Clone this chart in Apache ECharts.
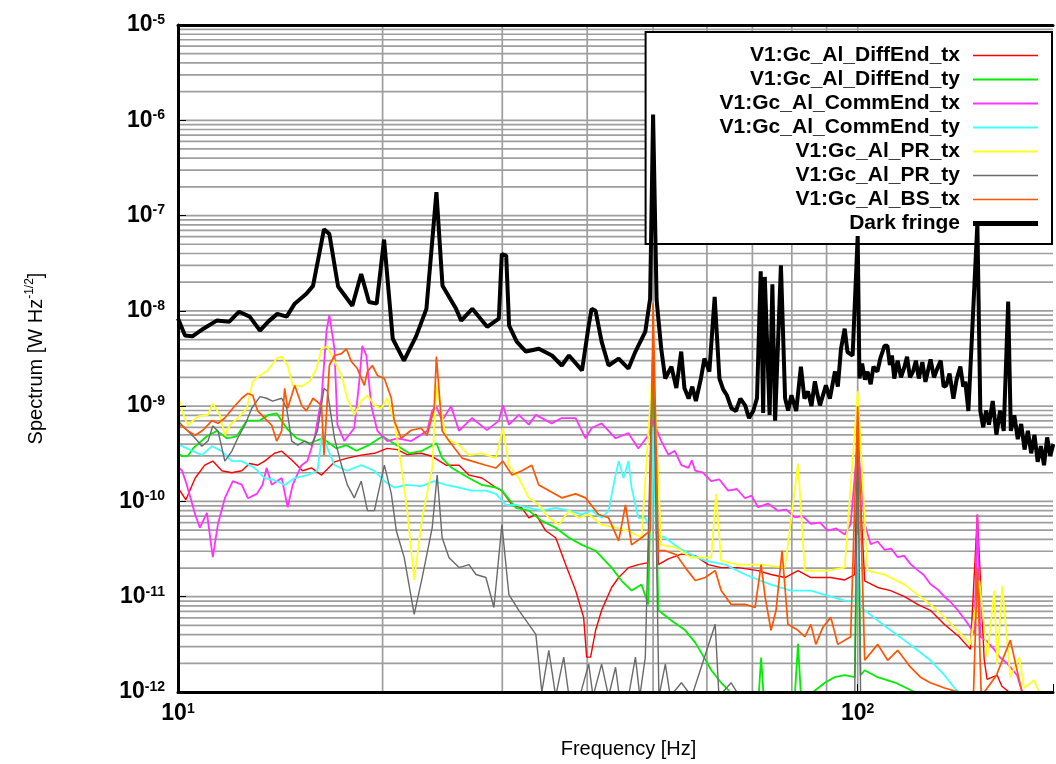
<!DOCTYPE html>
<html>
<head>
<meta charset="utf-8">
<title>Spectrum</title>
<script src="https://cdn.jsdelivr.net/npm/echarts@6/dist/echarts.min.js"></script>
<style>
  html, body { margin: 0; padding: 0; background: #fff; }
  #chart { width: 1056px; height: 764px; }
</style>
</head>
<body>
<div id="chart"></div>
<script>
// channel names in legend order
const channelNames = [
  'V1:Gc_Al_DiffEnd_tx', 'V1:Gc_Al_DiffEnd_ty', 'V1:Gc_Al_CommEnd_tx', 'V1:Gc_Al_CommEnd_ty',
  'V1:Gc_Al_PR_tx', 'V1:Gc_Al_PR_ty', 'V1:Gc_Al_BS_tx', 'Dark fringe'
]

// axis range and grid values
const freqRange = [10, 193.8]
const ampRange = [1e-12, 1e-5]
const freqGrid = [20, 30, 40, 50, 60, 70, 80, 90, 100]
const mantissas = [1, 2, 3, 4, 5, 6, 7, 8, 9]
const decades = [-12, -11, -10, -9, -8, -7, -6]

// [frequency Hz, amplitude W/sqrt(Hz)]
const diffEndTx = [[10.0,1.4e-10],[10.27,1.04e-10],[10.6,1.76e-10],[10.95,2.4e-10],[11.25,2.65e-10],[11.6,2.1e-10],[12.0,2.0e-10],[12.41,2.1e-10],[12.75,2.5e-10],[13.1,2.4e-10],[13.41,2.65e-10],[13.87,3.2e-10],[14.21,3.37e-10],[14.7,2.72e-10],[15.25,2.1e-10],[15.72,2.25e-10],[16.26,1.89e-10],[16.99,2.6e-10],[17.75,2.85e-10],[18.6,3.06e-10],[19.45,3.2e-10],[20.32,3.6e-10],[21.02,3.5e-10],[21.74,3.1e-10],[22.79,3.2e-10],[23.57,3.0e-10],[24.8,2.4e-10],[25.91,2.4e-10],[26.8,1.89e-10],[28.0,1.76e-10],[29.36,1.4e-10],[29.96,1.3e-10],[31.0,9.2e-11],[32.06,8.55e-11],[32.82,6.73e-11],[33.61,7.3e-11],[34.76,4.92e-11],[35.95,4.16e-11],[37.19,2.17e-11],[38.46,1.16e-11],[39.52,6.07e-12],[39.92,2.32e-12],[40.46,2.32e-12],[41.15,4.44e-12],[42.0,7.2e-12],[43.44,1.25e-11],[44.5,1.59e-11],[46.0,2.02e-11],[47.57,2.17e-11],[49.2,2.28e-11],[50.0,5e-9],[50.9,2.17e-11],[52.65,2.5e-11],[55.03,2.8e-11],[57.68,2.7e-11],[60.26,2.17e-11],[62.97,2.02e-11],[66.68,2.02e-11],[71.35,1.88e-11],[74.55,1.71e-11],[78.17,1.59e-11],[81.7,1.88e-11],[85.33,1.59e-11],[91.3,1.59e-11],[95.7,1.5e-11],[99.0,1.71e-11],[100.0,4e-10],[102.4,1.47e-11],[107.0,1.25e-11],[111.8,1.16e-11],[117.2,1.0e-11],[122.5,8.3e-12],[127.9,7.2e-12],[134.2,5.1e-12],[141.0,3.8e-12],[146.5,2.8e-12],[150.0,7.3e-11],[153.5,2.2e-12],[155.0,1.36e-12],[160.4,1.5e-12],[163.0,1.15e-12],[170.0,9e-13]]

const diffEndTy = [[10.0,3.2e-10],[10.14,2.99e-10],[10.34,3.0e-10],[10.52,3.6e-10],[11.03,4.83e-10],[11.41,5.5e-10],[11.8,4.6e-10],[12.2,4.83e-10],[12.63,7.05e-10],[13.2,7.1e-10],[13.6,8.1e-10],[13.97,8.4e-10],[14.45,5.86e-10],[14.95,4.6e-10],[15.62,4.08e-10],[16.32,4.6e-10],[17.11,3.6e-10],[17.69,3.9e-10],[18.3,3.4e-10],[19.1,3.9e-10],[20.0,4.83e-10],[20.95,3.9e-10],[21.88,3.2e-10],[22.87,3.4e-10],[24.0,4.08e-10],[24.47,2.85e-10],[25.3,2.24e-10],[26.8,1.76e-10],[28.0,1.49e-10],[29.36,1.4e-10],[29.96,1.3e-10],[31.42,8.55e-11],[32.82,8.0e-11],[34.3,6.25e-11],[35.95,5.3e-11],[37.6,4.16e-11],[39.3,3.5e-11],[41.15,3.04e-11],[43.44,2.02e-11],[44.94,1.47e-11],[46.5,1.16e-11],[48.08,1.34e-11],[49.2,8.3e-12],[50.0,3e-9],[50.9,7.2e-12],[53.2,5.64e-12],[55.76,4.44e-12],[57.68,3.3e-12],[59.66,2.2e-12],[60.9,1.69e-12],[62.97,1.25e-12],[64.5,1.05e-12],[66.0,8e-13],[71.5,9e-13],[72.1,2.3e-12],[72.8,8e-13],[80.8,9e-13],[81.7,3.2e-12],[82.6,8e-13],[86.0,1.0e-12],[89.45,1.25e-12],[92.5,1.43e-12],[95.7,1.5e-12],[99.0,1.43e-12],[100.0,2e-10],[101.0,1.5e-12],[102.4,1.69e-12],[107.0,1.43e-12],[113.7,1.25e-12],[119.6,1.05e-12],[125.0,9e-13]]

const commEndTx = [[10.0,2.3e-10],[10.14,2.1e-10],[10.3,1.5e-10],[10.6,7.3e-11],[10.77,5.3e-11],[11.03,7.6e-11],[11.25,2.6e-11],[11.45,5.8e-11],[11.72,1.08e-10],[12.04,1.63e-10],[12.41,1.5e-10],[12.67,1.08e-10],[13.06,1.2e-10],[13.32,1.5e-10],[13.5,2.25e-10],[13.74,1.5e-10],[13.97,1.63e-10],[14.21,1.76e-10],[14.5,8.7e-11],[14.75,1.5e-10],[15.2,2.4e-10],[15.5,2.65e-10],[15.88,4.6e-10],[16.26,1.21e-9],[16.54,6.2e-9],[16.7,9.0e-9],[16.99,4.0e-9],[17.16,6.4e-10],[17.57,4.3e-10],[18.17,5.9e-10],[18.48,1.82e-9],[18.67,4.3e-9],[18.93,3.4e-9],[19.25,1.0e-9],[19.65,5.5e-10],[20.32,4.3e-10],[21.02,4.6e-10],[22.03,4.3e-10],[23.26,5.5e-10],[23.66,9.0e-10],[23.98,1.0e-9],[24.47,7.05e-10],[25.22,1.0e-9],[25.91,5.5e-10],[27.07,7.5e-10],[28.48,5.6e-10],[29.66,7.05e-10],[30.06,1.02e-9],[30.68,6.4e-10],[31.73,8.1e-10],[32.82,6.4e-10],[33.61,8.1e-10],[35.47,6.6e-10],[36.69,7.5e-10],[38.46,7.5e-10],[39.78,4.6e-10],[40.6,5.9e-10],[42.0,6.6e-10],[44.03,4.6e-10],[46.0,5.2e-10],[47.57,3.6e-10],[49.2,4.95e-10],[50.0,7.05e-10],[51.4,4.3e-10],[52.65,3.1e-10],[53.8,3.4e-10],[55.03,2.4e-10],[56.34,2.25e-10],[57.0,2.7e-10],[57.68,2.1e-10],[59.2,2.0e-10],[60.88,1.63e-10],[62.6,1.7e-10],[64.48,1.3e-10],[66.4,1.35e-10],[68.29,1.08e-10],[69.8,1.15e-10],[71.35,8.7e-11],[73.8,9.5e-11],[76.34,8.0e-11],[78.5,8.2e-11],[80.84,6.8e-11],[83.0,7.0e-11],[85.33,5.8e-11],[88.0,6.0e-11],[90.36,4.95e-11],[93.0,5.2e-11],[95.7,4.5e-11],[97.65,5.8e-11],[100.0,4.2e-10],[102.4,5.8e-11],[104.5,3.55e-11],[107.0,3.8e-11],[109.6,3.1e-11],[112.0,3.2e-11],[114.5,2.6e-11],[117.0,2.7e-11],[119.6,2.2e-11],[122.5,1.9e-11],[125.0,1.7e-11],[127.9,1.36e-11],[131.0,1.2e-11],[134.2,1.0e-11],[137.0,8.8e-12],[140.2,7.3e-12],[145.0,5.3e-12],[148.5,4.1e-12],[150.0,7.3e-11],[151.5,3.8e-12],[155.0,3.4e-12],[158.8,2.8e-12],[162.0,2.3e-12],[165.9,2.0e-12],[171.6,1.5e-12],[174.6,1.0e-12],[178.0,8e-13]]

const commEndTy = [[10.0,3.9e-10],[10.14,3.8e-10],[10.48,3.4e-10],[10.84,3.06e-10],[11.22,3.8e-10],[11.6,3.37e-10],[12.0,2.65e-10],[12.41,2.65e-10],[12.97,2.24e-10],[13.41,1.76e-10],[13.87,1.67e-10],[14.35,1.49e-10],[14.85,1.76e-10],[15.5,1.89e-10],[16.04,2.1e-10],[16.32,5.5e-10],[16.59,3.6e-10],[16.99,2.4e-10],[17.75,2.1e-10],[18.6,2.4e-10],[19.45,2.1e-10],[20.12,1.63e-10],[20.8,1.4e-10],[21.74,1.49e-10],[22.79,1.45e-10],[23.82,1.63e-10],[24.8,1.49e-10],[25.91,1.4e-10],[27.07,1.3e-10],[28.38,1.3e-10],[29.36,1.2e-10],[30.37,9.2e-11],[31.42,9.2e-11],[32.82,8.55e-11],[34.3,8.0e-11],[35.95,8.55e-11],[37.6,8.0e-11],[39.3,7.3e-11],[40.6,8.0e-11],[42.0,6.73e-11],[43.0,8.0e-11],[44.03,1.89e-10],[44.5,2.65e-10],[45.23,1.76e-10],[46.0,2.65e-10],[46.48,1.4e-10],[47.57,6.73e-11],[48.7,6.73e-11],[49.7,4.92e-11],[50.0,6e-10],[50.5,4.5e-11],[52.12,4.16e-11],[54.5,3.27e-11],[56.9,2.76e-11],[59.66,2.39e-11],[63.83,2.17e-11],[68.29,1.71e-11],[74.55,1.34e-11],[79.75,1.16e-11],[85.33,1.16e-11],[91.3,1.0e-11],[95.7,9.1e-12],[99.2,9e-12],[100.0,4.5e-11],[100.8,8e-12],[102.4,7.2e-12],[107.0,5.64e-12],[111.8,4.44e-12],[117.2,3.48e-12],[122.5,2.74e-12],[127.9,2.15e-12],[134.2,1.5e-12],[138.8,1.1e-12],[143.0,9e-13]]

const prTx = [[10.0,1.3e-9],[10.14,8.9e-10],[10.34,6.3e-10],[10.7,7.8e-10],[11.07,8.1e-10],[11.25,1.07e-9],[11.52,8.1e-10],[11.72,4.95e-10],[11.92,6.3e-10],[12.24,7.5e-10],[12.63,9.5e-10],[12.88,1.82e-9],[13.2,2.1e-9],[13.55,2.37e-9],[13.97,3.16e-9],[14.21,3.31e-9],[14.5,2.67e-9],[14.75,1.65e-9],[15.2,1.61e-9],[15.62,1.82e-9],[15.99,2.48e-9],[16.26,4.0e-9],[16.59,4.22e-9],[16.99,2.94e-9],[17.4,2.1e-9],[17.75,1.21e-9],[18.17,8.1e-10],[18.6,1.13e-9],[19.0,1.3e-9],[19.45,1.02e-9],[19.92,9.5e-10],[20.32,1.21e-9],[20.8,7.05e-10],[21.3,2.4e-10],[21.74,8.0e-11],[22.26,1.5e-11],[22.87,6.73e-11],[23.66,2.24e-10],[24.0,1.65e-9],[24.8,4.6e-10],[25.91,3.9e-10],[26.8,3.06e-10],[28.0,3.2e-10],[29.36,2.85e-10],[30.06,5.86e-10],[30.68,2.4e-10],[31.73,1.76e-10],[32.82,1.09e-10],[33.95,9.2e-11],[35.12,6.73e-11],[36.33,5.7e-11],[37.6,8.0e-11],[38.86,6.73e-11],[40.2,7.3e-11],[42.0,5.7e-11],[44.03,5.3e-11],[46.0,4.92e-11],[48.08,4.16e-11],[50.0,3e-9],[51.4,3.5e-11],[54.1,3.27e-11],[56.9,2.57e-11],[60.88,2.57e-11],[61.9,1.2e-10],[62.97,2.39e-11],[66.68,2.17e-11],[72.1,2.17e-11],[78.17,2.02e-11],[81.7,2.5e-10],[83.6,1.88e-11],[90.36,1.88e-11],[95.7,2.02e-11],[100.0,1.43e-9],[103.4,1.88e-11],[109.6,1.71e-11],[117.2,1.34e-11],[122.5,1.05e-11],[127.9,8.3e-12],[134.2,6.07e-12],[140.2,4.44e-12],[146.5,3.16e-12],[151.0,1.48e-11],[155.1,2.32e-12],[158.8,1.16e-11],[160.4,1.96e-12],[163.2,1.3e-11],[167.7,1.43e-12],[172.8,2.32e-12],[175.8,1.1e-12],[181.8,1.33e-12],[186.0,9e-13]]

const prTy = [[10.0,7.05e-10],[10.14,6.3e-10],[10.34,5.5e-10],[10.6,4.6e-10],[10.84,3.8e-10],[11.07,4.3e-10],[11.25,6.2e-10],[11.45,5.5e-10],[11.72,2.65e-10],[12.0,3.37e-10],[12.24,4.6e-10],[12.54,6.3e-10],[12.84,9.5e-10],[13.2,1.26e-9],[13.5,1.21e-9],[13.78,1.13e-9],[14.21,1.21e-9],[14.45,9.5e-10],[14.7,4.3e-10],[15.0,3.9e-10],[15.36,4.3e-10],[15.72,3.9e-10],[16.04,5.5e-10],[16.4,1.54e-9],[16.59,1.43e-9],[16.99,4.6e-10],[17.4,2.4e-10],[17.75,1.49e-10],[18.17,1.09e-10],[18.6,1.63e-10],[19.0,8.0e-11],[19.45,8.0e-11],[20.12,2.4e-10],[20.6,1.2e-10],[20.95,4.92e-11],[21.52,2.57e-11],[22.26,6.52e-12],[22.87,1.59e-11],[23.66,5.3e-11],[24.06,1.89e-10],[24.47,4.16e-11],[25.05,2.57e-11],[25.91,2.02e-11],[26.8,2.17e-11],[27.44,1.71e-11],[28.38,1.59e-11],[29.16,7.7e-12],[29.96,5.7e-11],[30.68,1.05e-11],[31.73,7.2e-12],[32.82,5.13e-12],[33.61,4.03e-12],[34.3,1.0e-12],[35.12,2.74e-12],[35.95,9e-13],[36.94,2.32e-12],[37.6,9e-13],[39.0,9e-13],[40.2,1.96e-12],[40.8,9e-13],[42.0,1.96e-12],[43.0,9e-13],[44.03,1.82e-12],[44.6,9e-13],[46.0,9e-13],[47.1,2.32e-12],[47.8,9e-13],[48.7,2.32e-12],[50.0,5e-9],[51.0,9e-13],[52.12,1.96e-12],[53.0,9e-13],[55.03,1.25e-12],[57.0,9e-13],[61.71,5.13e-12],[62.5,9e-13],[65.14,1.25e-12],[67.0,9e-13],[99.0,9e-13],[100.0,6e-10],[101.0,9e-13],[150.0,9e-13]]

const bsTx = [[10.0,6.3e-10],[10.14,6.2e-10],[10.34,5.5e-10],[10.6,4.95e-10],[10.88,5.58e-10],[11.22,7.05e-10],[11.45,6.6e-10],[11.72,7.5e-10],[12.04,9.5e-10],[12.41,1.21e-9],[12.67,1.36e-9],[12.88,1.3e-9],[13.1,8.9e-10],[13.41,7.5e-10],[13.74,6.3e-10],[13.97,4.3e-10],[14.21,5.5e-10],[14.35,1.54e-9],[14.5,9.5e-10],[14.85,1.65e-9],[15.2,1.02e-9],[15.45,8.9e-10],[15.8,1.21e-9],[16.26,1.02e-9],[16.4,3.06e-10],[16.7,2.67e-9],[16.99,3.4e-9],[17.4,3.56e-9],[17.69,4.0e-9],[17.99,2.94e-9],[18.36,2.48e-9],[18.8,1.65e-9],[19.0,2.31e-9],[19.32,2.67e-9],[19.65,2.1e-9],[20.12,1.95e-9],[20.6,1.21e-9],[20.8,7.05e-10],[21.3,4.6e-10],[22.03,5.58e-10],[22.79,5.86e-10],[23.26,4.95e-10],[23.82,9.5e-10],[24.0,3.31e-9],[24.47,5.5e-10],[25.05,4.3e-10],[26.18,2.85e-10],[27.07,2.65e-10],[28.38,2.4e-10],[29.36,2.24e-10],[30.06,2.65e-10],[31.0,1.89e-10],[32.06,2.1e-10],[33.15,2.4e-10],[33.95,1.49e-10],[35.12,1.3e-10],[36.69,1.09e-10],[38.46,1.2e-10],[39.78,1.09e-10],[41.57,7.3e-11],[43.0,6.73e-11],[44.5,3.86e-11],[45.54,9.2e-11],[46.48,3.5e-11],[48.08,4.16e-11],[49.5,4.92e-11],[50.0,1.2e-8],[50.9,3.04e-11],[52.12,3.04e-11],[54.1,2.76e-11],[55.76,2.02e-11],[57.68,1.48e-11],[59.66,1.59e-11],[61.71,1.88e-11],[62.97,1.16e-11],[65.14,8.3e-12],[68.29,8.3e-12],[70.63,7.7e-12],[72.1,2.17e-11],[73.07,1.0e-11],[74.55,4.44e-12],[75.84,7.2e-12],[77.4,3.04e-11],[78.95,5.13e-12],[81.7,4.44e-12],[83.6,3.8e-12],[85.33,5.13e-12],[86.78,3.16e-12],[88.86,4.77e-12],[91.3,6.07e-12],[93.47,3.16e-12],[97.65,3.8e-12],[100.0,1.0e-9],[102.4,2.15e-12],[107.0,3.16e-12],[110.7,2.15e-12],[114.5,2.74e-12],[119.6,1.82e-12],[123.7,1.43e-12],[127.9,1.25e-12],[134.2,1.1e-12],[148.0,9e-13],[150.0,2e-11],[152.0,9e-13],[160.0,1.5e-12],[167.7,3.5e-12],[175.0,9e-13]]

const darkFringe = [[10.0,8.3e-9],[10.24,5.5e-9],[10.5,5.4e-9],[10.9,6.5e-9],[11.4,7.9e-9],[11.9,7.7e-9],[12.3,9.8e-9],[12.75,8.7e-9],[13.2,6.2e-9],[13.6,7.8e-9],[14.0,9.3e-9],[14.45,8.7e-9],[14.85,1.19e-8],[15.45,1.51e-8],[15.8,1.83e-8],[16.4,7.2e-8],[16.7,6.4e-8],[17.2,1.8e-8],[18.05,1.13e-8],[18.6,2.44e-8],[19.1,1.24e-8],[19.6,1.19e-8],[20.1,5.6e-8],[20.7,5.1e-9],[21.5,3.0e-9],[22.4,5.4e-9],[23.2,1.05e-8],[24.0,1.76e-7],[24.5,1.83e-8],[25.65,1.05e-8],[26.1,7.9e-9],[27.1,1.05e-8],[28.5,6.8e-9],[29.65,8.3e-9],[29.95,3.95e-8],[30.4,3.8e-8],[30.7,7.0e-9],[31.5,4.75e-9],[32.5,3.74e-9],[33.95,4.0e-9],[35.5,3.4e-9],[36.7,2.67e-9],[37.6,3.4e-9],[39.3,2.37e-9],[40.2,7.0e-9],[40.6,1.05e-8],[41.15,1.0e-8],[42.0,4.75e-9],[43.0,2.67e-9],[44.5,3.16e-9],[46.0,2.48e-9],[47.1,3.74e-9],[48.7,6.05e-9],[49.5,1.34e-8],[50.0,1.15e-6],[50.6,1.3e-8],[51.4,4.0e-9],[52.1,1.95e-9],[53.2,2.6e-9],[54.1,1.55e-9],[55.0,3.74e-9],[55.6,1.55e-9],[56.4,1.2e-9],[57.1,1.6e-9],[57.8,1.13e-9],[58.8,1.95e-9],[59.5,3.16e-9],[60.5,2.31e-9],[61.6,1.4e-8],[62.6,1.95e-9],[63.4,1.5e-9],[64.2,1.3e-9],[65.2,9.5e-10],[66.2,8.9e-10],[67.2,1.2e-9],[68.3,1.02e-9],[69.2,7.5e-10],[70.2,8.9e-10],[71.1,1.21e-9],[72.0,2.6e-8],[72.6,8.5e-10],[73.0,2.27e-8],[74.2,8.1e-10],[74.9,1.9e-8],[75.6,7.05e-10],[77.1,3.0e-8],[78.2,1.21e-9],[79.0,9.0e-10],[79.9,1.3e-9],[81.2,8.9e-10],[82.5,2.6e-9],[83.5,1.2e-9],[84.5,1.43e-9],[85.5,1.0e-9],[86.5,1.82e-9],[87.3,1.3e-9],[88.0,1.02e-9],[89.8,1.65e-9],[91.0,1.2e-9],[92.6,2.31e-9],[93.5,1.6e-9],[94.5,4.0e-9],[95.7,6.5e-9],[96.6,3.7e-9],[98.3,3.4e-9],[100.0,6.1e-8],[100.6,1.95e-9],[101.5,2.8e-9],[102.5,1.9e-9],[103.4,2.3e-9],[104.5,1.7e-9],[105.5,2.6e-9],[106.9,2.3e-9],[108.0,3.2e-9],[109.5,4.3e-9],[110.6,4.3e-9],[111.5,2.7e-9],[112.3,3.4e-9],[113.2,1.95e-9],[114.5,3.0e-9],[115.8,2.0e-9],[117.0,2.5e-9],[118.2,3.3e-9],[119.4,2.0e-9],[120.6,2.3e-9],[121.8,3.0e-9],[123.0,1.95e-9],[124.5,2.9e-9],[125.8,1.8e-9],[126.8,2.3e-9],[128.0,3.1e-9],[129.5,2.0e-9],[131.0,2.5e-9],[132.5,3.0e-9],[133.8,1.6e-9],[135.0,1.65e-9],[136.5,2.2e-9],[138.3,1.2e-9],[139.8,1.9e-9],[141.6,2.6e-9],[143.0,1.6e-9],[144.0,1.8e-9],[145.5,8.9e-10],[150.0,8.3e-8],[151.5,8.9e-10],[153.0,6.0e-10],[154.5,9.0e-10],[156.0,6.4e-10],[158.0,1.13e-9],[160.0,5.0e-10],[162.0,9.0e-10],[164.0,5.5e-10],[166.5,1.25e-8],[168.0,5.5e-10],[170.0,8.0e-10],[172.0,4.5e-10],[174.0,6.5e-10],[176.0,3.5e-10],[178.0,5.5e-10],[180.0,3.2e-10],[182.0,5.0e-10],[184.0,2.6e-10],[186.0,3.8e-10],[188.0,2.4e-10],[190.0,4.7e-10],[192.0,3.0e-10],[194.0,4.0e-10]]

const channelData = [diffEndTx, diffEndTy, commEndTx, commEndTy, prTx, prTy, bsTx, darkFringe]

// line look per channel
const lineColors = ['#ff0000', '#00ee00', '#ff33ff', '#40ffff', '#ffff22', '#6a6a6a', '#ff5500', '#000000']
const lineWidths = [1.4, 1.8, 1.8, 1.8, 1.8, 1.4, 1.7, 4]
const legendWidths = [1.4, 2, 2, 2, 2, 1.5, 1.5, 5]

const FONT = 'Liberation Sans'

// grid lines: every 1..9 x 10^k across, every 10 Hz up; '-' breaks the path between lines
const ampGrid = []
decades.forEach(d => mantissas.forEach(m => ampGrid.push(m * Math.pow(10, d))))
const gridPath = []
ampGrid.forEach(v => { gridPath.push([freqRange[0], v], [freqRange[1], v], [freqRange[1], '-']) })
freqGrid.forEach(f => { gridPath.push([f, ampRange[0]], [f, ampRange[1]], [f, '-']) })

function powLabel(v) {
  const e = Math.log10(v)
  const r = Math.round(e)
  if (Math.abs(e - r) > 1e-6) return ''
  return '{b|10}{s|' + r + '}'
}

const labelRich = {
  b: { fontFamily: FONT, fontSize: 23, fontWeight: 'bold', color: '#000', lineHeight: 24, verticalAlign: 'middle' },
  s: { fontFamily: FONT, fontSize: 14, fontWeight: 'bold', color: '#000', lineHeight: 14, verticalAlign: 'top' }
}

const chart = echarts.init(document.getElementById('chart'))

const gridSeries = {
  name: 'grid',
  type: 'line',
  data: gridPath,
  symbol: 'none',
  showSymbol: false,
  silent: true,
  connectNulls: false,
  z: 1,
  lineStyle: { color: '#9e9e9e', width: 1.7 },
  emphasis: { disabled: true }
}

const dataSeries = channelData.map((d, i) => ({
  name: channelNames[i],
  type: 'line',
  data: d,
  symbol: 'none',
  showSymbol: false,
  z: 3,
  clip: true,
  color: lineColors[i],
  lineStyle: { color: lineColors[i], width: lineWidths[i] },
  itemStyle: { color: lineColors[i] },
  emphasis: { disabled: true }
}))

const option = {
  animation: false,
  backgroundColor: '#fff',
  grid: { left: 178, top: 25, right: 0, bottom: 69, containLabel: false },
  legend: {
    data: channelNames.map((n, i) => ({
      name: n,
      icon: 'path://M0,0H65V' + legendWidths[i] + 'H0Z',
      itemStyle: { color: lineColors[i], borderWidth: 0, opacity: 1 }
    })),
    orient: 'vertical',
    align: 'right',
    right: 4,
    top: 32,
    padding: [13, 14, 10, 74],
    itemWidth: 65,
    itemHeight: 14,
    itemGap: 3,
    backgroundColor: '#fff',
    borderColor: '#000',
    borderWidth: 2,
    borderRadius: 0,
    selectedMode: false,
    z: 2,
    textStyle: { fontFamily: FONT, fontSize: 21, fontWeight: 'bold', color: '#000', lineHeight: 20, padding: [0, 8, 0, 0] }
  },
  xAxis: [
    {
      type: 'log',
      min: freqRange[0],
      max: freqRange[1],
      position: 'bottom',
      z: 4,
      name: 'Frequency [Hz]',
      nameLocation: 'middle',
      nameGap: 47,
      nameTextStyle: { fontFamily: FONT, fontSize: 20, color: '#000', padding: [0, 0, 0, 26] },
      axisLine: { lineStyle: { color: '#000', width: 3 } },
      axisTick: { show: true, inside: true, length: 8, lineStyle: { color: '#000', width: 1 } },
      axisLabel: { formatter: powLabel, rich: labelRich, margin: 10 },
      splitLine: { show: false }
    },
    {
      type: 'log',
      min: freqRange[0],
      max: freqRange[1],
      position: 'top',
      z: 4,
      axisLine: { lineStyle: { color: '#000', width: 3 } },
      axisTick: { show: false },
      axisLabel: { show: false },
      splitLine: { show: false }
    }
  ],
  yAxis: {
    type: 'log',
    min: ampRange[0],
    max: ampRange[1],
    z: 4,
    name: 'Spectrum [W Hz{s|-1/2}]',
    nameLocation: 'middle',
    nameGap: 130,
    nameRotate: 90,
    nameTextStyle: {
      fontFamily: FONT, fontSize: 20, color: '#000', lineHeight: 24,
      rich: { s: { fontFamily: FONT, fontSize: 12, color: '#000', lineHeight: 12, verticalAlign: 'top' } }
    },
    axisLine: { lineStyle: { color: '#000', width: 3 } },
    axisTick: { show: true, inside: true, length: 8, lineStyle: { color: '#000', width: 1 } },
    axisLabel: { formatter: powLabel, rich: labelRich, margin: 13 },
    splitLine: { show: false }
  },
  series: [gridSeries].concat(dataSeries)
}

chart.setOption(option)
</script>
</body>
</html>
